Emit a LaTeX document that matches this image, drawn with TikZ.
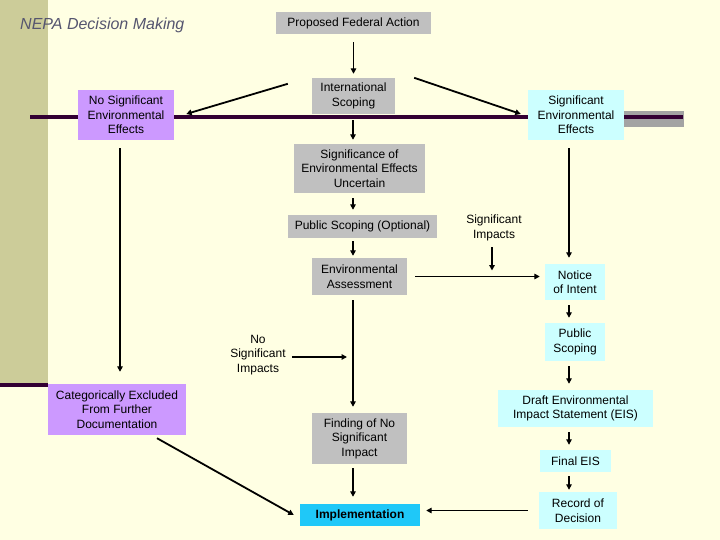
\documentclass[tikz,border=0pt]{standalone}
\usepackage{fontspec}
\setmainfont{Liberation Sans}
\usetikzlibrary{arrows.meta,calc}
\definecolor{bgc}{HTML}{FFFFE3}
\definecolor{khaki}{HTML}{CCCC99}
\definecolor{barc}{HTML}{330033}
\definecolor{grayb}{HTML}{C0C0C0}
\definecolor{lav}{HTML}{CC99FF}
\definecolor{lcyan}{HTML}{CCFFFF}
\definecolor{implc}{HTML}{1FC8F8}
\definecolor{titlec}{HTML}{55556F}
\tikzset{
  box/.style={inner sep=0pt, align=center, font=\fontsize{12}{14.5}\selectfont},
  gbox/.style={box, fill=grayb},
  pbox/.style={box, fill=lav},
  cbox/.style={box, fill=lcyan},
  lbl/.style={inner sep=0pt, align=center, font=\fontsize{12}{14.5}\selectfont},
  arr/.style={line width=1.8pt, -{Triangle[length=5.5pt,width=5.5pt]}},
}
\begin{document}
\begin{tikzpicture}[x=1pt,y=-1pt]
\fill[bgc] (0,0) rectangle (720,540);
\useasboundingbox (0,0) rectangle (720,540);
% decorative template
\fill[khaki] (0,0) rectangle (48,383);
\fill[barc] (0,383) rectangle (48,387);
\fill[grayb!85!black] (624,111) rectangle (684,127);
\draw[barc, line width=3.5pt] (30,117) -- (683,117);
% title
\node[anchor=west, inner sep=0pt, font=\fontsize{16}{18}\selectfont\itshape, text=titlec] (title) at (20,25) {NEPA Decision Making};
% nodes
\node[gbox, minimum width=155, minimum height=22] (pfa) at (353.5,23) {Proposed Federal Action};
\node[gbox, minimum width=83, minimum height=36] (is) at (353.5,96) {International\\Scoping};
\node[pbox, minimum width=96, minimum height=50] (nse) at (126,115) {No Significant\\Environmental\\Effects};
\node[cbox, minimum width=96, minimum height=50] (se) at (576,115) {Significant\\Environmental\\Effects};
\node[gbox, minimum width=131, minimum height=49] (seu) at (359.5,168.5) {Significance of\\Environmental Effects\\Uncertain};
\node[gbox, minimum width=149, minimum height=23] (ps) at (362.5,226.5) {Public Scoping (Optional)};
\node[gbox, minimum width=95, minimum height=37] (ea) at (359.5,276.5) {Environmental\\Assessment};
\node[lbl] (sigimp) at (494,228) {Significant\\Impacts};
\node[cbox, minimum width=60, minimum height=36] (noi) at (575,282) {Notice\\of Intent};
\node[cbox, minimum width=60, minimum height=38] (pub) at (575,342) {Public\\Scoping};
\node[lbl] (nosig) at (258,355) {No\\Significant\\Impacts};
\node[pbox, minimum width=138, minimum height=51] (cat) at (117,409.5) {Categorically Excluded\\From Further\\Documentation};
\node[cbox, minimum width=155, minimum height=37] (deis) at (575.5,408.5) {Draft Environmental\\Impact Statement (EIS)};
\node[gbox, minimum width=95, minimum height=51] (fonsi) at (359.5,438.5) {Finding of No\\Significant\\Impact};
\node[cbox, minimum width=71, minimum height=22] (feis) at (575.5,461) {Final EIS};
\node[cbox, minimum width=78, minimum height=37] (rod) at (578,510.5) {Record of\\Decision};
\node[box, fill=implc, minimum width=120, minimum height=22, font=\fontsize{12}{14.5}\selectfont\bfseries] (impl) at (360,515) {Implementation};
% connectors
\draw[arr, shorten <=8pt, shorten >=4pt] (pfa.south) -- (is.north);
\draw[arr] ([shift={(-24,6)}]is.north west) -- ([shift={(12,-1)}]nse.east);
\draw[arr] ([shift={(19,0)}]is.north east) -- ([shift={(-7,-1)}]se.west);
\draw[arr, shorten <=6pt, shorten >=4pt] ([xshift=-0.5]is.south) -- ([xshift=-0.5]is.south |- seu.north);
\draw[arr, shorten <=5pt, shorten >=5pt] ([xshift=-0.5]is.south |- seu.south) -- ([xshift=-0.5]is.south |- ps.north);
\draw[arr, shorten <=3pt, shorten >=2pt] ([xshift=-0.5]is.south |- ps.south) -- ([xshift=-0.5]is.south |- ea.north);
\draw[arr, shorten <=6pt, shorten >=6pt] ([xshift=-2]sigimp.south) -- ([xshift=-2]sigimp.south |- ea.east);
\draw[arr, shorten <=8pt, shorten >=5pt] (ea.east) -- (ea.east -| noi.west);
\draw[arr, shorten <=8pt, shorten >=6pt] ([xshift=-7]se.south) -- ([xshift=-7]se.south |- noi.north);
\draw[arr, shorten <=5pt, shorten >=5pt] ([xshift=-6]noi.south) -- ([xshift=-6]noi.south |- pub.north);
\draw[arr, shorten <=5pt, shorten >=6pt] ([xshift=-6]pub.south) -- ([xshift=-6]pub.south |- deis.north);
\draw[arr, shorten <=5pt, shorten >=5pt] ([xshift=-6]pub.south |- deis.south) -- ([xshift=-6]pub.south |- feis.north);
\draw[arr, shorten <=4pt, shorten >=2pt] ([xshift=-6]pub.south |- feis.south) -- ([xshift=-6]pub.south |- rod.north);
\draw[arr, shorten <=11pt, shorten >=6pt] (rod.west) -- (rod.west -| impl.east);
\draw[arr, shorten <=8pt, shorten >=12pt] ([xshift=-6]nse.south) -- ([xshift=-6]nse.south |- cat.north);
\draw[arr] ([shift={(40,3)}]cat.south) -- ([xshift=-6]impl.west);
\draw[arr, shorten <=5pt, shorten >=6pt] ([xshift=-0.5]is.south |- ea.south) -- ([xshift=-0.5]is.south |- fonsi.north);
\draw[arr, shorten <=6pt, shorten >=12.5pt] ([yshift=-2]nosig.east) -- ([yshift=-2]nosig.east -| ea.south);
\draw[arr, shorten <=4pt, shorten >=7pt] ([xshift=-0.5]is.south |- fonsi.south) -- ([xshift=-0.5]is.south |- impl.north);
\end{tikzpicture}
\end{document}
